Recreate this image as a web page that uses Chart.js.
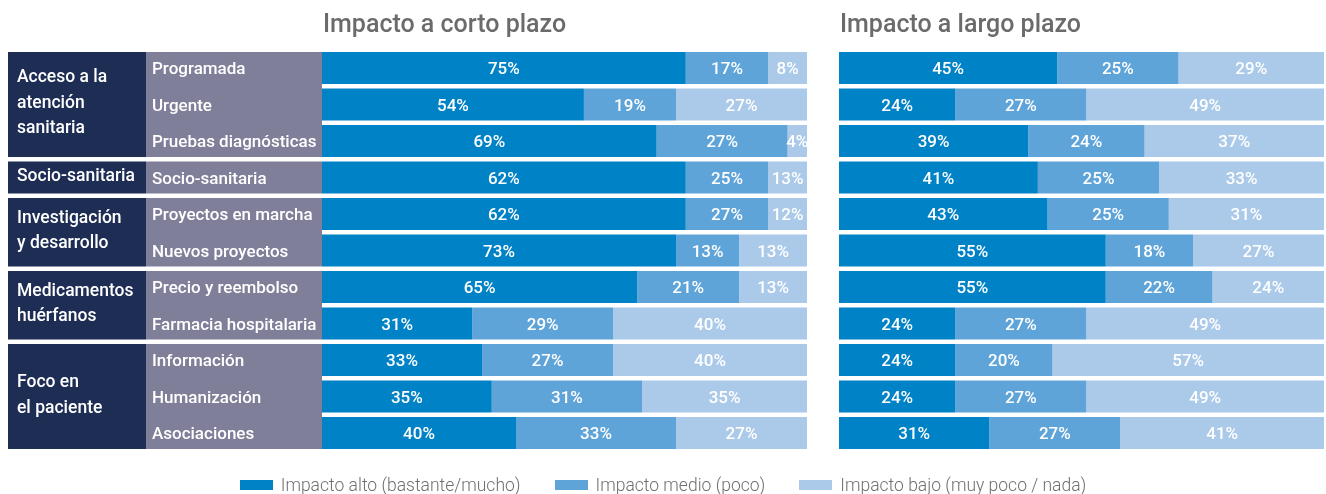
<!DOCTYPE html>
<html lang="es">
<head>
<meta charset="utf-8">
<title>Impacto a corto y largo plazo</title>
<script src="https://cdn.jsdelivr.net/npm/chart.js@4.4.1/dist/chart.umd.min.js"></script>
<style>
  html, body { margin: 0; padding: 0; background: #ffffff; }
  #wrap { position: relative; width: 1326px; height: 494px; overflow: hidden; font-family: Roboto, "Open Sans", sans-serif; }
  canvas { position: absolute; top: 0; }
  #legend { position: absolute; left: 0; top: 475px; width: 1326px; display: flex; justify-content: center; align-items: center; color: #6f6f6f; font-size: 17.5px; font-weight: 300; }
  #legend .item { display: flex; align-items: center; margin: 0 17px; }
  #legend .box { width: 33px; height: 10px; margin-right: 8px; }
</style>
</head>
<body>
<div id="wrap">
  <canvas id="shortChart" width="807" height="494" style="left:0"></canvas>
  <canvas id="longChart" width="487" height="494" style="left:839px"></canvas>
  <div id="legend"></div>
</div>
<script>
// ---------- data ----------
const rowLabels = ['Programada', 'Urgente', 'Pruebas diagnósticas', 'Socio-sanitaria', 'Proyectos en marcha',
  'Nuevos proyectos', 'Precio y reembolso', 'Farmacia hospitalaria', 'Información', 'Humanización', 'Asociaciones'];
const groupLabels = [['Acceso a la', 'atención', 'sanitaria'], ['Socio-sanitaria'], ['Investigación', 'y desarrollo'],
  ['Medicamentos', 'huérfanos'], ['Foco en', 'el paciente']];
const groupSizes = [3, 1, 2, 2, 3];
const seriesNames = ['Impacto alto (bastante/mucho)', 'Impacto medio (poco)', 'Impacto bajo (muy poco / nada)'];
const panelTitles = ['Impacto a corto plazo', 'Impacto a largo plazo'];

// Impacto a corto plazo: printed percentages
const shortHigh = [75, 54, 69, 62, 62, 73, 65, 31, 33, 35, 40];
const shortMid  = [17, 19, 27, 25, 27, 13, 21, 29, 27, 31, 33];
const shortLow  = [8, 27, 4, 13, 12, 13, 13, 40, 40, 35, 27];
// bar lengths as drawn in the source (rows 4-5 are drawn like row 1)
const shortHighBar = [75, 54, 69, 75, 75, 73, 65, 31, 33, 35, 40];
const shortMidBar  = [17, 19, 27, 17, 17, 13, 21, 29, 27, 31, 33];

// Impacto a largo plazo: printed percentages
const longHigh = [45, 24, 39, 41, 43, 55, 55, 24, 24, 24, 31];
const longMid  = [25, 27, 24, 25, 25, 18, 22, 27, 20, 27, 27];
const longLow  = [29, 49, 37, 33, 31, 27, 24, 49, 57, 49, 41];

// ---------- style ----------
const colors = ['#0082c6', '#5ea4d9', '#abcae9'];
const navy = '#1d2d54';
const slate = '#807f9a';
const FONT = 'Roboto, "Open Sans", sans-serif';

// legend (HTML text)
const legendEl = document.getElementById('legend');
seriesNames.forEach((name, i) => {
  const item = document.createElement('div');
  item.className = 'item';
  const box = document.createElement('span');
  box.className = 'box';
  box.style.background = colors[i];
  const txt = document.createElement('span');
  txt.textContent = name;
  item.appendChild(box); item.appendChild(txt);
  legendEl.appendChild(item);
});

function buildDatasets(high, mid, labelsArr) {
  // floating segments: [start, end]; last segment fills to the 100 % edge
  const seg = [
    high.map((v, i) => [0, v]),
    high.map((v, i) => [v, v + mid[i]]),
    high.map((v, i) => [v + mid[i], 100])
  ];
  return seg.map((data, k) => ({
    label: seriesNames[k],
    data: data,
    printed: labelsArr[k],
    backgroundColor: colors[k],
    borderWidth: 0,
    grouped: false,
    categoryPercentage: 1,
    barPercentage: 0.877,
    clip: 0
  }));
}

const valueLabels = {
  id: 'valueLabels',
  afterDatasetsDraw(chart) {
    const ctx = chart.ctx, a = chart.chartArea;
    ctx.save();
    ctx.beginPath();
    ctx.rect(a.left, a.top, a.right - a.left, a.bottom - a.top);
    ctx.clip();
    ctx.fillStyle = '#ffffff';
    ctx.font = '500 17px ' + FONT;
    ctx.textAlign = 'center';
    ctx.textBaseline = 'middle';
    chart.data.datasets.forEach((ds, k) => {
      chart.getDatasetMeta(k).data.forEach((el, i) => {
        ctx.fillText(ds.printed[i] + '%', (el.x + el.base) / 2, el.y + 2);
      });
    });
    ctx.restore();
  }
};

const panelTitle = {
  id: 'panelTitle',
  afterDraw(chart, args, opts) {
    const ctx = chart.ctx;
    ctx.save();
    ctx.fillStyle = '#6b6b6b';
    ctx.font = '500 25px ' + FONT;
    ctx.textAlign = 'left';
    ctx.textBaseline = 'alphabetic';
    ctx.fillText(opts.text, chart.chartArea.left + 1, 32);
    ctx.restore();
  }
};

const rowPanel = {
  id: 'rowPanel',
  beforeDatasetsDraw(chart) {
    const ctx = chart.ctx;
    const meta = chart.getDatasetMeta(0);
    const right = chart.chartArea.left;
    let idx = 0;
    ctx.save();
    groupLabels.forEach((lines, g) => {
      const n = groupSizes[g];
      const first = meta.data[idx], last = meta.data[idx + n - 1];
      const top = first.y - first.height / 2;
      const bottom = last.y + last.height / 2;
      ctx.fillStyle = navy;
      ctx.fillRect(8, top, 138, bottom - top);
      ctx.fillStyle = slate;
      ctx.fillRect(146, top, right - 146, bottom - top);
      ctx.fillStyle = '#ffffff';
      ctx.textAlign = 'left';
      ctx.textBaseline = 'middle';
      ctx.font = '500 17.5px ' + FONT;
      const mid = (top + bottom) / 2 - 1;
      lines.forEach((t, j) => {
        ctx.fillText(t, 17, mid + (j - (lines.length - 1) / 2) * 25.5);
      });
      ctx.font = '500 17px ' + FONT;
      for (let r = idx; r < idx + n; r++) {
        ctx.fillText(rowLabels[r], 152, meta.data[r].y + 2);
      }
      idx += n;
    });
    ctx.restore();
  }
};

function makeChart(id, high, mid, printed, title, padding, withRows) {
  return new Chart(document.getElementById(id), {
    type: 'bar',
    data: { labels: rowLabels, datasets: buildDatasets(high, mid, printed) },
    options: {
      indexAxis: 'y',
      responsive: false,
      animation: false,
      devicePixelRatio: 1,
      layout: { padding: padding },
      scales: {
        x: { type: 'linear', min: 0, max: 100, display: false },
        y: { type: 'category', display: false, offset: true }
      },
      plugins: {
        legend: { display: false },
        tooltip: { enabled: false },
        panelTitle: { text: title }
      }
    },
    plugins: withRows ? [rowPanel, valueLabels, panelTitle] : [valueLabels, panelTitle]
  });
}

makeChart('shortChart', shortHighBar, shortMidBar, [shortHigh, shortMid, shortLow], panelTitles[0],
  { left: 322, right: 0, top: 49.75, bottom: 42.75 }, true);
makeChart('longChart', longHigh, longMid, [longHigh, longMid, longLow], panelTitles[1],
  { left: 0, right: 2, top: 49.75, bottom: 42.75 }, false);
</script>
</body>
</html>
